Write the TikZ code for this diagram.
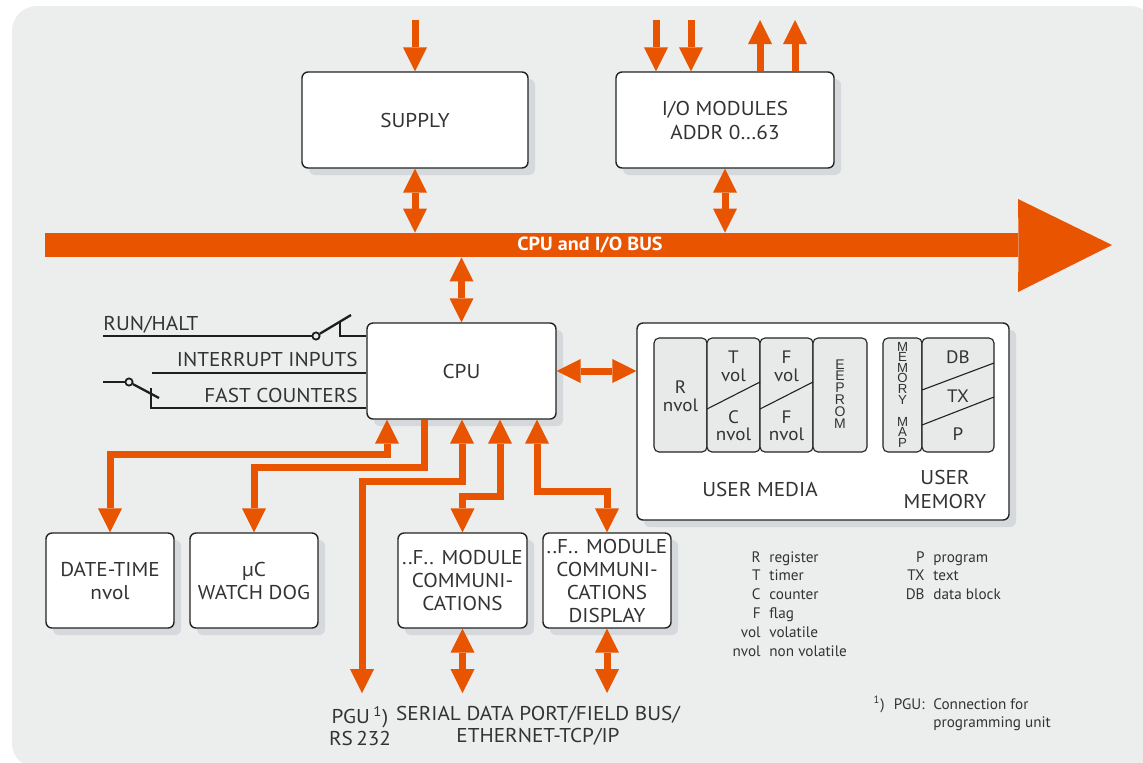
\documentclass[tikz,border=0pt]{standalone}
\usepackage{fontspec}
\setmainfont{PT Sans}[FakeStretch=1.06]
\newfontfamily\legendfont{PT Sans}
\newfontfamily\stackfont{Liberation Sans}
\usetikzlibrary{arrows.meta,shadows,calc}

\definecolor{busorange}{RGB}{232,84,0}
\definecolor{panelgray}{RGB}{236,237,237}
\definecolor{shadowgray}{RGB}{214,217,220}
\definecolor{inkgray}{RGB}{51,51,51}
\definecolor{cellgray}{RGB}{232,233,233}
\definecolor{boxline}{RGB}{34,34,34}
\definecolor{wireblack}{RGB}{30,30,30}

\tikzset{
  box/.style={draw=boxline, line width=0.7pt, fill=white, rounded corners=3pt,
    inner sep=0pt, align=center, text=inkgray,
    font=\fontsize{10pt}{11.5pt}\selectfont,
    drop shadow={shadow xshift=3.5pt, shadow yshift=-3.5pt, fill=shadowgray, opacity=1}},
  cell/.style={draw=boxline, line width=0.55pt, fill=cellgray, rounded corners=2.5pt,
    inner sep=0pt, minimum height=57pt},
  celltext/.style={text=inkgray, font=\fontsize{9pt}{10pt}\selectfont, inner sep=0pt, anchor=base},
  stack/.style={text=inkgray, inner sep=0pt, text height=5pt, text depth=0pt},
  stackA/.style={stack, font=\stackfont\fontsize{7pt}{8pt}\selectfont},
  stackB/.style={stack, font=\stackfont\fontsize{6.6pt}{7pt}\selectfont},
  lbl/.style={text=inkgray, font=\fontsize{10pt}{11pt}\selectfont, inner sep=0pt},
  legend/.style={text=inkgray, font=\legendfont\fontsize{7.6pt}{9pt}\selectfont, inner sep=0pt},
  wire/.style={draw=wireblack, line width=1.15pt},
  switchpin/.style={circle, draw=wireblack, line width=0.9pt, fill=panelgray,
    inner sep=0pt, minimum size=3.6pt},
  flow/.style={draw=busorange, line width=3.5pt, line join=miter},
  oneway/.style={flow, -{Triangle[width=12pt,length=12pt,line width=0pt]}},
  twoway/.style={flow, {Triangle[width=12pt,length=12pt,line width=0pt]}-{Triangle[width=12pt,length=12pt,line width=0pt]}},
}

\begin{document}
\begin{tikzpicture}[x=0.5pt,y=-0.5pt]
\useasboundingbox (0,0) rectangle (1143,762);
\fill[white] (0,0) rectangle (1143,762);
\fill[panelgray, rounded corners=12.5pt] (12,6) rectangle (1155,768);

% ---------- blocks ----------
\node[box, minimum width=113pt, minimum height=48pt] (supply) at (415,120) {SUPPLY};
\node[box, minimum width=109pt, minimum height=48pt] (iomod) at (725,120) {I/O MODULES\\[0.5pt]ADDR 0…63};
\node[box, minimum width=94.5pt, minimum height=48pt] (cpu) at (461.5,371) {CPU};
\node[box, minimum width=186pt, minimum height=98.5pt] (user) at (823,421.5) {};
\node[box, minimum width=64pt, minimum height=47.5pt] (datetime) at (110,580.5) {DATE-TIME\\nvol};
\node[box, minimum width=64pt, minimum height=47.5pt] (watchdog) at (254,580.5) {µC\\WATCH DOG};
\node[box, minimum width=64.5pt, minimum height=47.5pt] (comm) at (462.5,580.5) {..F.. MODULE\\COMMUNI-\\CATIONS};
\node[box, minimum width=64pt, minimum height=47.5pt] (display) at (607,580.5) {..F.. MODULE\\COMMUNI-\\CATIONS\\DISPLAY};

% ---------- bus ----------
\node[fill=busorange, inner sep=0pt, minimum width=486.5pt, minimum height=12pt] (bus) at (531.5,245) {};
\fill[busorange] (bus.north east) -- (1018,199) -- (1112,245) -- (1018,292) -- (bus.south east) -- cycle;
\node[text=white, font=\bfseries\fontsize{9.5pt}{10pt}\selectfont, inner sep=0pt] (buslabel) at (590,245) {CPU and I/O BUS};

% ---------- supply and I/O connectors ----------
\coordinate (supin) at (415,20);
\draw[oneway] (supin) -- (supply.north);
\draw[twoway] (supply.south) -- (supply.south |- bus.north);

\coordinate (ioinA) at (656,20);
\coordinate (ioinB) at (691,20);
\coordinate (iooutA) at (760,20);
\coordinate (iooutB) at (795,20);
\draw[oneway] (ioinA) -- (ioinA |- iomod.north);
\draw[oneway] (ioinB) -- (ioinB |- iomod.north);
\draw[oneway] (iooutA |- iomod.north) -- (iooutA);
\draw[oneway] (iooutB |- iomod.north) -- (iooutB);
\draw[twoway] (iomod.south) -- (iomod.south |- bus.north);

\draw[twoway] (cpu.north |- bus.south) -- (cpu.north);
\draw[twoway] (cpu.east) -- (cpu.east -| user.west);

% ---------- CPU to peripheral modules ----------
\coordinate (dtbend) at (387,454);
\coordinate (wdbend) at (424,467);
\coordinate (pgubend) at (462,481);
\coordinate (pguend) at (362,693);
\coordinate (combend) at (500,496);
\coordinate (dspbend) at (537,491);
\draw[twoway] (dtbend |- cpu.south) -- (dtbend) -| (datetime.north);
\draw[oneway] (wdbend |- cpu.south) -- (wdbend) -| (watchdog.north);
\draw[twoway] (pgubend |- cpu.south) -- (pgubend) -| (pguend);
\draw[twoway] (combend |- cpu.south) -- (combend) -| (comm.north);
\draw[twoway] (dspbend |- cpu.south) -- (dspbend) -| (display.north);
\draw[twoway] (comm.south) -- (comm.south |- pguend);
\draw[twoway] (display.south) -- (display.south |- pguend);

% ---------- CPU input wires ----------
\node[lbl, anchor=base west] (runhalt) at (103,330) {RUN/HALT};
\node[lbl, anchor=base east] (irqlbl) at (358,366) {INTERRUPT INPUTS};
\node[lbl, anchor=base east] (fclbl) at (358,402) {FAST COUNTERS};

\coordinate (rhstart) at (103,336);
\coordinate (rhtip) at (351,315);
\coordinate (rhcontact) at (340,321);
\coordinate (rhjoint) at (340,336);
\node[switchpin] (rhpivot) at (316,336) {};
\draw[wire] (rhstart) -- (rhpivot);
\draw[wire] (rhpivot) -- (rhtip);
\draw[wire] (rhcontact) -- (rhjoint) -- (rhjoint -| cpu.west);

\coordinate (irqstart) at (152,373);
\draw[wire] (irqstart) -- (irqstart -| cpu.west);

\coordinate (fcstart) at (103,382);
\coordinate (fctip) at (159,398);
\coordinate (fccontact) at (151,388);
\coordinate (fcjoint) at (151,408);
\node[switchpin] (fcpivot) at (129,382) {};
\draw[wire] (fcstart) -- (fcpivot);
\draw[wire] (fcpivot) -- (fctip);
\draw[wire] (fccontact) -- (fcjoint) -- (fcjoint -| cpu.west);

% ---------- user media / user memory ----------
\node[cell, minimum width=26.5pt] (rcell) at (680.5,395) {};
\node[cell, minimum width=26.5pt] (tccell) at (733.5,395) {};
\node[cell, minimum width=26.5pt] (ffcell) at (786.5,395) {};
\node[cell, minimum width=27pt] (eeprom) at (840,395) {};
\node[cell, minimum width=19.5pt] (memmap) at (902.5,395) {};
\node[cell, minimum width=36pt] (dbcell) at (958,395) {};

\draw[boxline, line width=0.55pt] (707,409) -- (760,382);
\draw[boxline, line width=0.55pt] (760,409) -- (813,382);
\draw[boxline, line width=0.55pt] (922,390) -- (994,363);
\draw[boxline, line width=0.55pt] (922,425) -- (994,397);

\node[celltext] (rR) at (680.5,393) {R};
\node[celltext] (rN) at (680.5,411) {nvol};
\node[celltext] (tT) at (733.5,363) {T};
\node[celltext] (tV) at (733.5,381) {vol};
\node[celltext] (cC) at (733.5,423) {C};
\node[celltext] (cN) at (733.5,440) {nvol};
\node[celltext] (fT) at (786.5,363) {F};
\node[celltext] (fV) at (786.5,381) {vol};
\node[celltext] (fB) at (786.5,423) {F};
\node[celltext] (fN) at (786.5,440) {nvol};
\node[celltext] (dbT) at (958,363) {DB};
\node[celltext] (txT) at (958,402) {TX};
\node[celltext] (pT) at (958,440) {P};

\foreach \ch [count=\i] in {E,E,P,R,O,M}
  \node[stackA] (ee\i) at (840,{364+11.8*(\i-1)}) {\ch};
\foreach \ch [count=\i] in {M,E,M,O,R,Y}
  \node[stackB] (mm\i) at (902.5,{346+10.6*(\i-1)}) {\ch};
\foreach \ch [count=\i] in {M,A,P}
  \node[stackB] (map\i) at (902.5,{421+10.6*(\i-1)}) {\ch};

\node[lbl, anchor=base] (usermedia) at (760,496) {USER MEDIA};
\node[lbl, anchor=base] (usermemA) at (945,484) {USER};
\node[lbl, anchor=base] (usermemB) at (945,508) {MEMORY};

% ---------- bottom port labels ----------
\node[lbl, align=center] (pgulbl) at (360,726) {PGU\,\textsuperscript{1})\\RS\,232};
\node[lbl, align=center] (seriallbl) at (538,726) {SERIAL DATA PORT/FIELD BUS/\\ETHERNET-TCP/IP};

% ---------- legend ----------
\foreach \ab/\tx [count=\i] in {R/register, T/timer, C/counter, F/flag, vol/volatile, nvol/non volatile} {
  \node[legend, anchor=base east] (legab\i) at (761,{562+18.8*(\i-1)}) {\ab};
  \node[legend, anchor=base west] (legtx\i) at (769,{562+18.8*(\i-1)}) {\tx};
}
\foreach \ab/\tx [count=\i] in {P/program, TX/text, DB/data block} {
  \node[legend, anchor=base east] (legrab\i) at (925,{562+18.8*(\i-1)}) {\ab};
  \node[legend, anchor=base west] (legrtx\i) at (933,{562+18.8*(\i-1)}) {\tx};
}
\node[legend, anchor=base east] (fnmark) at (885,709) {\textsuperscript{1})};
\node[legend, anchor=base east] (fnpgu) at (925,709) {PGU:};
\node[legend, anchor=base west] (fntxtA) at (933,709) {Connection for};
\node[legend, anchor=base west] (fntxtB) at (933,727) {programming unit};
\end{tikzpicture}
\end{document}
